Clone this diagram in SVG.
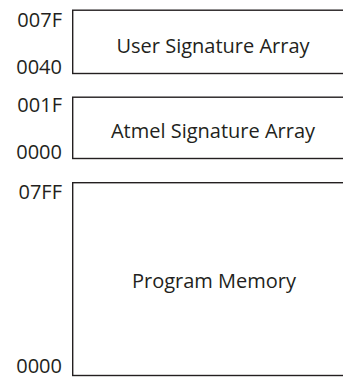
<svg xmlns="http://www.w3.org/2000/svg" width="343" height="379" viewBox="0 0 343 379">
<style>
.box{fill:#fff;stroke:#231f20;stroke-width:1.4}
.lbl{font-family:"Open Sans","Liberation Sans",sans-serif;font-size:20px;fill:#231f20}
.addr{text-anchor:end}
.mid{text-anchor:middle}
</style>
<rect width="343" height="379" fill="#fff"/>
<g id="user-sig">
<rect class="box" x="72.7" y="10.2" width="290" height="63.3"/>
<text class="lbl mid" x="213" y="52.5">User Signature Array</text>
<text class="lbl addr" x="62" y="26.7">007F</text>
<text class="lbl addr" x="62" y="74">0040</text>
</g>
<g id="atmel-sig">
<rect class="box" x="72.7" y="97.2" width="290" height="61.3"/>
<text class="lbl mid" x="213" y="137.5">Atmel Signature Array</text>
<text class="lbl addr" x="62" y="112.3">001F</text>
<text class="lbl addr" x="62" y="159">0000</text>
</g>
<g id="program-memory">
<rect class="box" x="72.7" y="182.7" width="290" height="192.8"/>
<text class="lbl mid" x="214" y="288">Program Memory</text>
<text class="lbl addr" x="62" y="199.3">07FF</text>
<text class="lbl addr" x="62" y="373.3">0000</text>
</g>
<g id="connectors"/>
</svg>
